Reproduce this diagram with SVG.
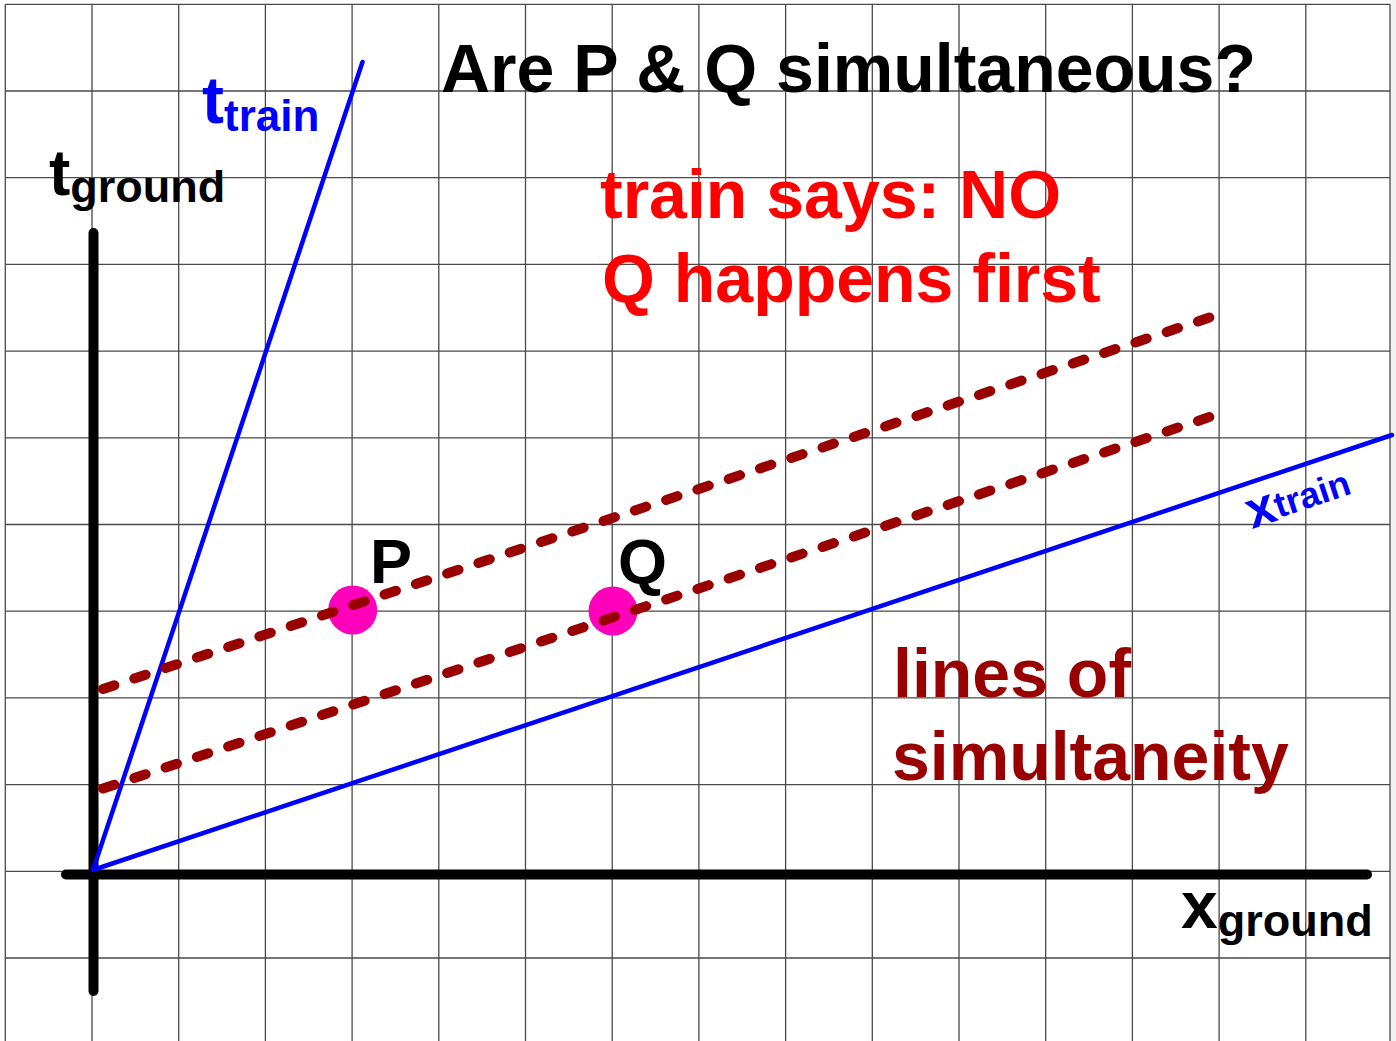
<svg xmlns="http://www.w3.org/2000/svg" width="1396" height="1041" viewBox="0 0 1396 1041">
<style>
.grid{stroke:#4a4a4a;stroke-width:1.3;fill:none}
.axis{stroke:#000;stroke-width:10;stroke-linecap:round}
.frame{stroke:#0000ff;stroke-width:4.5;stroke-linecap:round}
.sim{stroke:#990000;stroke-width:10;stroke-linecap:round;stroke-dasharray:12 21;fill:none}
.ev{fill:#ff00bb}
text{font-family:"Liberation Sans",Arial,sans-serif;font-weight:bold}
.blk{fill:#000}
.red{fill:#ff0000}
.dred{fill:#990000}
.blu{fill:#0000ff}
</style>
<rect x="0" y="0" width="1396" height="1041" fill="#fff"/>
<rect x="1390" y="0" width="6" height="1041" fill="#f2f2f2"/>
<g id="grid">
<path class="grid" d="M5.3 4.3V1041M92 4.3V1041M178.7 4.3V1041M265.4 4.3V1041M352.1 4.3V1041M438.8 4.3V1041M525.5 4.3V1041M612.2 4.3V1041M698.9 4.3V1041M785.6 4.3V1041M872.3 4.3V1041M959 4.3V1041M1045.7 4.3V1041M1132.4 4.3V1041M1219.1 4.3V1041M1305.8 4.3V1041M1390 4.3V1041"/>
<path class="grid" d="M5.3 4.3H1390M5.3 91H1390M5.3 177.7H1390M5.3 264.4H1390M5.3 351.1H1390M5.3 437.8H1390M5.3 524.5H1390M5.3 611.2H1390M5.3 697.9H1390M5.3 784.6H1390M5.3 871.3H1390M5.3 958H1390"/>
</g>
<g id="event-P"><circle class="ev" cx="352.7" cy="610" r="24.5"/><text class="blk" x="370" y="583" font-size="63">P</text></g>
<g id="event-Q"><circle class="ev" cx="613" cy="611" r="24.5"/><text class="blk" x="618" y="583" font-size="63">Q</text></g>
<g id="connectors">
<line id="t-ground-axis" class="axis" x1="93.5" y1="233" x2="93.5" y2="991"/>
<line id="x-ground-axis" class="axis" x1="66" y1="874.5" x2="1367" y2="874.5"/>
<line id="t-train-axis" class="frame" x1="93" y1="870" x2="362.5" y2="62"/>
<line id="x-train-axis" class="frame" x1="93" y1="870" x2="1392" y2="435"/>
<line id="sim-line-P" class="sim" x1="103" y1="689" x2="1217" y2="315"/>
<line id="sim-line-Q" class="sim" x1="103" y1="788.5" x2="1217" y2="414.5"/>
</g>
<g id="title"><text class="blk" x="441" y="92" font-size="68">Are P &amp; Q simultaneous?</text></g>
<g id="label-t-ground"><text class="blk" x="49" y="195" font-size="64">t<tspan font-size="45" dy="7">ground</tspan></text></g>
<g id="label-t-train"><text class="blu" x="202" y="123" font-size="66">t<tspan font-size="44" dy="8">train</tspan></text></g>
<g id="label-x-ground"><text class="blk" x="1181" y="928" font-size="66">x<tspan font-size="45" dy="8">ground</tspan></text></g>
<g id="label-x-train"><text class="blu" transform="translate(1252,529) rotate(-18.4)" font-size="52">x<tspan font-size="36" dy="-2">train</tspan></text></g>
<g id="train-says"><text class="red" x="600" y="218" font-size="68">train says: NO</text><text class="red" x="602" y="302" font-size="68">Q happens first</text></g>
<g id="lines-of-simultaneity"><text class="dred" x="893" y="697" font-size="68">lines of</text><text class="dred" x="892" y="780" font-size="68">simultaneity</text></g>
</svg>
